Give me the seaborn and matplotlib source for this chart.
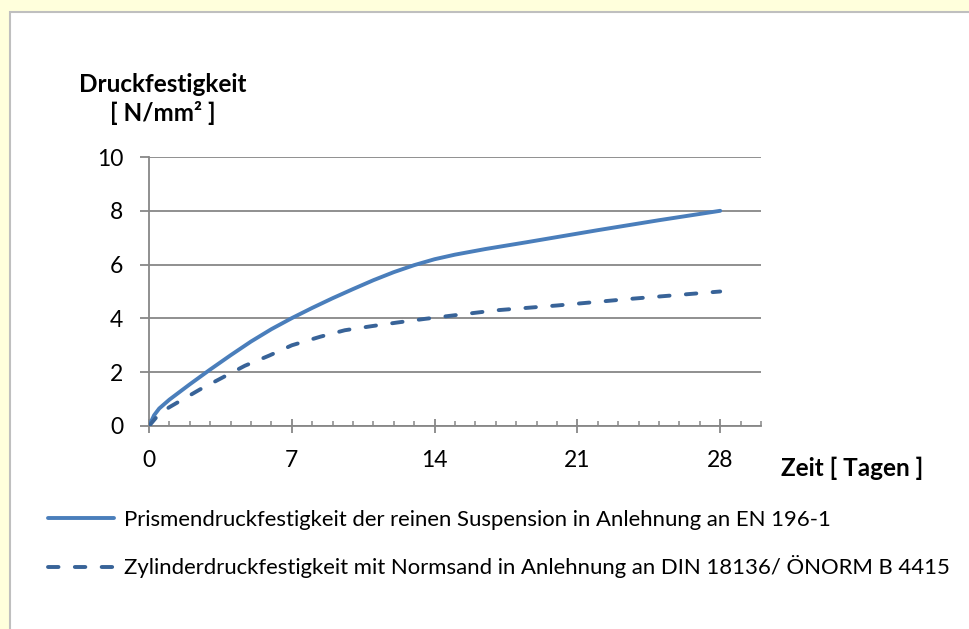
import numpy as np
import pandas as pd
import matplotlib
matplotlib.use("Agg")
import matplotlib.pyplot as plt
from matplotlib.patches import Rectangle
from matplotlib.ticker import MultipleLocator
import seaborn as sns

# ---- data ----
prism_days = [0, 0.25, 0.5, 1, 2, 3, 4, 5, 6, 7, 8, 9, 10, 11, 12, 13, 14, 15, 16.5, 18.5,
              22, 25, 28]
prism_vals = [0, 0.4, 0.65, 0.98, 1.55, 2.1, 2.63, 3.14, 3.6, 4.01, 4.39, 4.75, 5.09, 5.42,
              5.72, 5.98, 6.2, 6.37, 6.58, 6.83, 7.28, 7.65, 8.0]
zyl_days = [0, 0.5, 1, 2.5, 4.7, 5.9, 7, 8.4, 9.6, 10.9, 12.2, 13.5, 14.8, 17, 20, 23.5, 28]
zyl_vals = [0, 0.45, 0.7, 1.36, 2.24, 2.62, 3.0, 3.32, 3.56, 3.71, 3.85, 3.98, 4.1, 4.3,
            4.48, 4.72, 5.0]
x_ticks = [0, 7, 14, 21, 28]
y_ticks = [0, 2, 4, 6, 8, 10]
label_prism = "Prismendruckfestigkeit der reinen Suspension in Anlehnung an EN 196-1"
label_zyl = "Zylinderdruckfestigkeit mit Normsand in Anlehnung an DIN 18136/ ÖNORM B 4415"
y_title = ["Druckfestigkeit", "[ N/mm² ]"]
x_title = "Zeit [ Tagen ]"

sns.set_style("white")
plt.rcParams['font.family'] = ['Lato', 'DejaVu Sans']
plt.rcParams['text.color'] = 'black'

W, H = 970, 629
fig = plt.figure(figsize=(W / 100, H / 100), dpi=100)
fig.patch.set_facecolor("#FFFFDC")
fig.patches.append(Rectangle((10 / W, -0.01), 1, 1 - 12 / H + 0.01, transform=fig.transFigure,
                             facecolor="white", edgecolor="#BFBFBF", linewidth=1.5, zorder=-10))

ax = fig.add_axes([149 / W, 1 - 426 / H, (761 - 149) / W, (426 - 157) / H])
ax.set_facecolor("none")
ax.set_zorder(2)

grid_c = "#878787"
df1 = pd.DataFrame({"t": prism_days, "v": prism_vals})
df2 = pd.DataFrame({"t": zyl_days, "v": zyl_vals})
sns.lineplot(data=df1, x="t", y="v", ax=ax, color="#4A7EBB", linewidth=2.8,
             estimator=None, label=label_prism, solid_capstyle="round",
             solid_joinstyle="round", zorder=5)
sns.lineplot(data=df2, x="t", y="v", ax=ax, color="#386398", linewidth=2.8,
             estimator=None, label=label_zyl, zorder=5)
lines = ax.get_lines()
lines[1].set_dashes([2.7, 4.2])
lines[1].set_dash_capstyle("round")

ax.set_xlim(0, 30)
ax.set_ylim(0, 10)
ax.set_xticks(x_ticks)
ax.xaxis.set_minor_locator(MultipleLocator(1))
ax.set_yticks(y_ticks)
ax.yaxis.grid(True, color=grid_c, linewidth=1.3)
ax.set_axisbelow(True)
for s in ["top", "right"]:
    ax.spines[s].set_visible(False)
for s in ["left", "bottom"]:
    ax.spines[s].set_color(grid_c)
    ax.spines[s].set_linewidth(1.3)
ax.tick_params(axis="x", which="major", bottom=True, direction="inout", length=10, width=1.3,
               color=grid_c, labelsize=16.5, pad=12, labelcolor="black")
ax.tick_params(axis="x", which="minor", bottom=True, direction="in", length=3.5, width=1.1,
               color=grid_c)
ax.tick_params(axis="y", which="major", left=True, direction="out", length=6.5, width=1.3,
               color=grid_c, labelsize=16.5, pad=12, labelcolor="black")
ax.set_xlabel("")
ax.set_ylabel("")
ax.legend_.remove()

fig.text(163 / W, 1 - 84 / H, y_title[0], ha="center", va="center", fontsize=17.5,
         fontweight="bold", color="black")
fig.text(163 / W, 1 - 113 / H, y_title[1], ha="center", va="center", fontsize=17.5,
         fontweight="bold", color="black")
fig.text(781 / W, 1 - 468 / H, x_title, ha="left", va="center", fontsize=17.5,
         fontweight="bold", color="black")

handles, labels = ax.get_legend_handles_labels()
leg = fig.legend(handles, labels, loc="upper left", bbox_to_anchor=(48 / W, 1 - 510 / H),
                 frameon=False, fontsize=15.9, handlelength=3.0, handletextpad=0.45,
                 borderpad=0, borderaxespad=0, labelspacing=1.15)
for t in leg.get_texts():
    t.set_color("black")

fig.savefig("out.png", dpi=100, facecolor=fig.get_facecolor())
